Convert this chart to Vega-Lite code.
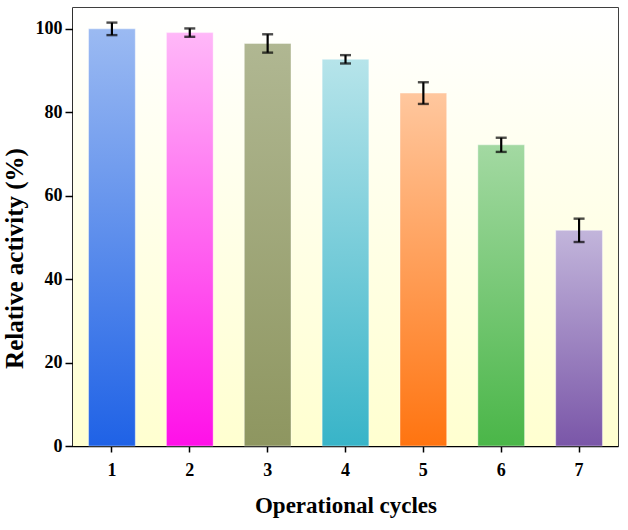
{
  "$schema": "https://vega.github.io/schema/vega-lite/v6.json",
  "autosize": "none",
  "width": 545,
  "height": 438,
  "padding": {"left": 73, "top": 8, "right": 10, "bottom": 84},
  "background": "white",
  "config": {
    "view": {"stroke": "#000", "strokeWidth": 1.5},
    "font": "Liberation Serif",
    "axis": {
      "labelFont": "Liberation Serif",
      "titleFont": "Liberation Serif",
      "labelFontWeight": "bold",
      "titleFontWeight": "bold",
      "labelColor": "#000",
      "titleColor": "#000",
      "domainColor": "#000",
      "tickColor": "#000",
      "domainWidth": 1.5,
      "tickWidth": 1.5,
      "grid": false
    }
  },
  "data": {
    "values": [
      {"cycle": "1", "activity": 100.0, "err": 1.5},
      {"cycle": "2", "activity": 99.1, "err": 1.0},
      {"cycle": "3", "activity": 96.5, "err": 2.2},
      {"cycle": "4", "activity": 92.7, "err": 1.0},
      {"cycle": "5", "activity": 84.6, "err": 2.6},
      {"cycle": "6", "activity": 72.2, "err": 1.7},
      {"cycle": "7", "activity": 51.7, "err": 2.8}
    ]
  },
  "layer": [
    {
      "data": {"values": [{}]},
      "mark": {
        "type": "rect",
        "fill": {
          "gradient": "linear",
          "x1": 0, "y1": 0, "x2": 0, "y2": 1,
          "stops": [
            {"offset": 0, "color": "#ffffff"},
            {"offset": 1, "color": "#ffffd0"}
          ]
        }
      },
      "encoding": {}
    },
    {
      "mark": {"type": "bar", "stroke": "#ffffff", "strokeOpacity": 0.4, "strokeWidth": 1},
      "encoding": {
        "x": {
          "field": "cycle",
          "type": "ordinal",
          "scale": {"paddingInner": 0.4, "paddingOuter": 0.2},
          "axis": {
            "title": "Operational cycles",
            "titleFontSize": 23,
            "labelFontSize": 18,
            "labelAngle": 0,
            "tickSize": 6,
            "labelPadding": 9,
            "titlePadding": 15
          }
        },
        "y": {
          "field": "activity",
          "type": "quantitative",
          "title": "Relative activity (%)",
          "scale": {"domain": [0, 105], "nice": false},
          "axis": {
            "title": "Relative activity (%)",
            "titleFontSize": 25,
            "labelFontSize": 18,
            "values": [0, 20, 40, 60, 80, 100],
            "tickSize": 8,
            "labelPadding": 3,
            "titlePadding": 8,
            "titleY": 250
          }
        },
        "fill": {
          "condition": [
            {"test": "datum.cycle == '1'", "value": {"gradient": "linear", "x1": 0, "y1": 0, "x2": 0, "y2": 1, "stops": [{"offset": 0, "color": "#9bbaf2"}, {"offset": 1, "color": "#1f62e6"}]}},
            {"test": "datum.cycle == '2'", "value": {"gradient": "linear", "x1": 0, "y1": 0, "x2": 0, "y2": 1, "stops": [{"offset": 0, "color": "#ffb8f8"}, {"offset": 1, "color": "#ff10e8"}]}},
            {"test": "datum.cycle == '3'", "value": {"gradient": "linear", "x1": 0, "y1": 0, "x2": 0, "y2": 1, "stops": [{"offset": 0, "color": "#b0b792"}, {"offset": 1, "color": "#8e9660"}]}},
            {"test": "datum.cycle == '4'", "value": {"gradient": "linear", "x1": 0, "y1": 0, "x2": 0, "y2": 1, "stops": [{"offset": 0, "color": "#b6e4ea"}, {"offset": 1, "color": "#38b4c8"}]}},
            {"test": "datum.cycle == '5'", "value": {"gradient": "linear", "x1": 0, "y1": 0, "x2": 0, "y2": 1, "stops": [{"offset": 0, "color": "#ffc79e"}, {"offset": 1, "color": "#ff7410"}]}},
            {"test": "datum.cycle == '6'", "value": {"gradient": "linear", "x1": 0, "y1": 0, "x2": 0, "y2": 1, "stops": [{"offset": 0, "color": "#a3d9a2"}, {"offset": 1, "color": "#4ab648"}]}}
          ],
          "value": {"gradient": "linear", "x1": 0, "y1": 0, "x2": 0, "y2": 1, "stops": [{"offset": 0, "color": "#c2b5db"}, {"offset": 1, "color": "#7a56a8"}]}
        }
      }
    },
    {
      "mark": {
        "type": "errorbar",
        "color": "#000",
        "rule": {"strokeWidth": 2.2},
        "ticks": {"size": 11, "thickness": 2.4}
      },
      "encoding": {
        "x": {"field": "cycle", "type": "ordinal"},
        "y": {"field": "activity", "type": "quantitative", "title": "Relative activity (%)"},
        "yError": {"field": "err"}
      }
    }
  ]
}
